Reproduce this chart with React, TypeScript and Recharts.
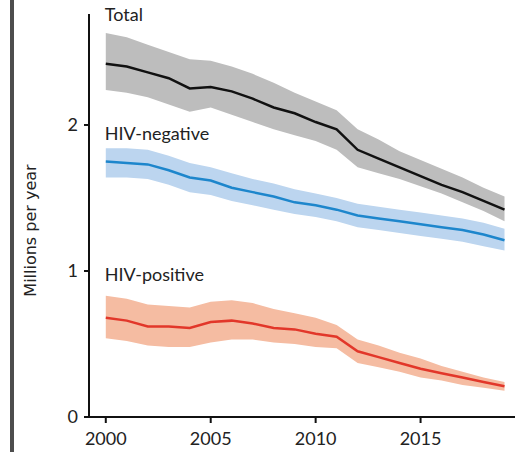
import { ComposedChart, Area, Line, XAxis, YAxis, ReferenceDot } from "recharts"

const FONT = "Lato, 'Open Sans', sans-serif"

const years = [2000, 2001, 2002, 2003, 2004, 2005, 2006, 2007, 2008, 2009, 2010, 2011, 2012, 2013, 2014, 2015, 2016, 2017, 2018, 2019]

const total = [2.42, 2.40, 2.36, 2.32, 2.25, 2.26, 2.23, 2.18, 2.12, 2.08, 2.02, 1.97, 1.83, 1.77, 1.71, 1.65, 1.59, 1.54, 1.48, 1.42]
const totalLow = [2.24, 2.22, 2.19, 2.14, 2.09, 2.12, 2.07, 2.02, 1.97, 1.93, 1.89, 1.83, 1.71, 1.67, 1.63, 1.58, 1.53, 1.47, 1.41, 1.34]
const totalHigh = [2.63, 2.60, 2.55, 2.50, 2.45, 2.44, 2.40, 2.35, 2.29, 2.22, 2.16, 2.10, 1.97, 1.90, 1.82, 1.76, 1.70, 1.64, 1.57, 1.51]

const hivNeg = [1.75, 1.74, 1.73, 1.69, 1.64, 1.62, 1.57, 1.54, 1.51, 1.47, 1.45, 1.42, 1.38, 1.36, 1.34, 1.32, 1.30, 1.28, 1.25, 1.21]
const hivNegLow = [1.64, 1.64, 1.63, 1.59, 1.54, 1.52, 1.48, 1.45, 1.42, 1.39, 1.37, 1.34, 1.30, 1.28, 1.26, 1.24, 1.22, 1.20, 1.17, 1.14]
const hivNegHigh = [1.84, 1.84, 1.83, 1.79, 1.74, 1.71, 1.67, 1.63, 1.60, 1.56, 1.53, 1.50, 1.46, 1.44, 1.42, 1.40, 1.38, 1.36, 1.33, 1.29]

const hivPos = [0.68, 0.66, 0.62, 0.62, 0.61, 0.65, 0.66, 0.64, 0.61, 0.60, 0.57, 0.55, 0.45, 0.41, 0.37, 0.33, 0.30, 0.27, 0.24, 0.21]
const hivPosLow = [0.54, 0.52, 0.49, 0.48, 0.48, 0.51, 0.53, 0.53, 0.51, 0.50, 0.48, 0.47, 0.37, 0.34, 0.31, 0.27, 0.25, 0.22, 0.20, 0.18]
const hivPosHigh = [0.83, 0.81, 0.77, 0.76, 0.75, 0.79, 0.80, 0.78, 0.74, 0.71, 0.68, 0.63, 0.53, 0.49, 0.44, 0.40, 0.35, 0.31, 0.27, 0.24]

const xTicks = [2000, 2005, 2010, 2015]
const yTicks = [0, 1, 2]

const data = years.map((year, i) => ({
  year,
  total: total[i],
  totalBand: [totalLow[i], totalHigh[i]],
  neg: hivNeg[i],
  negBand: [hivNegLow[i], hivNegHigh[i]],
  pos: hivPos[i],
  posBand: [hivPosLow[i], hivPosHigh[i]],
}))

const SeriesLabel = (props) => {
  const { viewBox, value } = props
  return (
    <text x={viewBox.x} y={viewBox.y} dominantBaseline="central" fontSize={18} fill="#222" fontFamily={FONT}>
      {value}
    </text>
  )
}

const YTitle = (props) => {
  const { viewBox } = props
  const x = viewBox.x - 19
  const y = viewBox.y + viewBox.height / 2 + 15
  return (
    <text x={x} y={y} transform={`rotate(-90, ${x}, ${y})`} textAnchor="middle" dominantBaseline="central"
      fontSize={16} fill="#222" fontFamily="'DejaVu Sans', sans-serif">
      Millions per year
    </text>
  )
}

const tickStyle = { fontSize: 18, fill: "#222", fontFamily: FONT }
const axisLine = { stroke: "#111", strokeWidth: 2 }

export default function App() {
  return (
    <div style={{ position: "absolute", left: 0, top: 0, width: 523, height: 452, background: "#fff" }}>
      <div style={{ position: "absolute", left: 10, top: 0, width: 4, height: 452, background: "#4d4d4d" }} />
      <ComposedChart width={523} height={452} data={data} margin={{ top: 14, right: 8, bottom: 5, left: 49 }}>
        <XAxis
          dataKey="year"
          type="number"
          domain={[1999.2, 2019.5]}
          ticks={xTicks}
          height={30}
          tick={tickStyle}
          tickSize={6}
          tickMargin={9}
          axisLine={axisLine}
          tickLine={axisLine}
          allowDataOverflow
        />
        <YAxis
          type="number"
          domain={[0, 2.76]}
          ticks={yTicks}
          width={40}
          tick={tickStyle}
          tickSize={5}
          tickMargin={6}
          axisLine={axisLine}
          tickLine={axisLine}
          label={<YTitle />}
          allowDataOverflow
        />
        <Area dataKey="totalBand" type="linear" fill="#bdbdbd" fillOpacity={1} stroke="none" isAnimationActive={false} />
        <Area dataKey="negBand" type="linear" fill="#bcd5ef" fillOpacity={1} stroke="none" isAnimationActive={false} />
        <Area dataKey="posBand" type="linear" fill="#f5bca2" fillOpacity={1} stroke="none" isAnimationActive={false} />
        <Line dataKey="total" type="linear" stroke="#111" strokeWidth={2.5} dot={false} isAnimationActive={false} />
        <Line dataKey="neg" type="linear" stroke="#1d86cc" strokeWidth={2.5} dot={false} isAnimationActive={false} />
        <Line dataKey="pos" type="linear" stroke="#e2372a" strokeWidth={2.5} dot={false} isAnimationActive={false} />
        <ReferenceDot x={2000} y={2.75} r={1} fill="none" stroke="none" ifOverflow="visible" label={<SeriesLabel value="Total" />} />
        <ReferenceDot x={2000} y={1.94} r={1} fill="none" stroke="none" ifOverflow="visible" label={<SeriesLabel value="HIV-negative" />} />
        <ReferenceDot x={2000} y={0.97} r={1} fill="none" stroke="none" ifOverflow="visible" label={<SeriesLabel value="HIV-positive" />} />
      </ComposedChart>
    </div>
  )
}
